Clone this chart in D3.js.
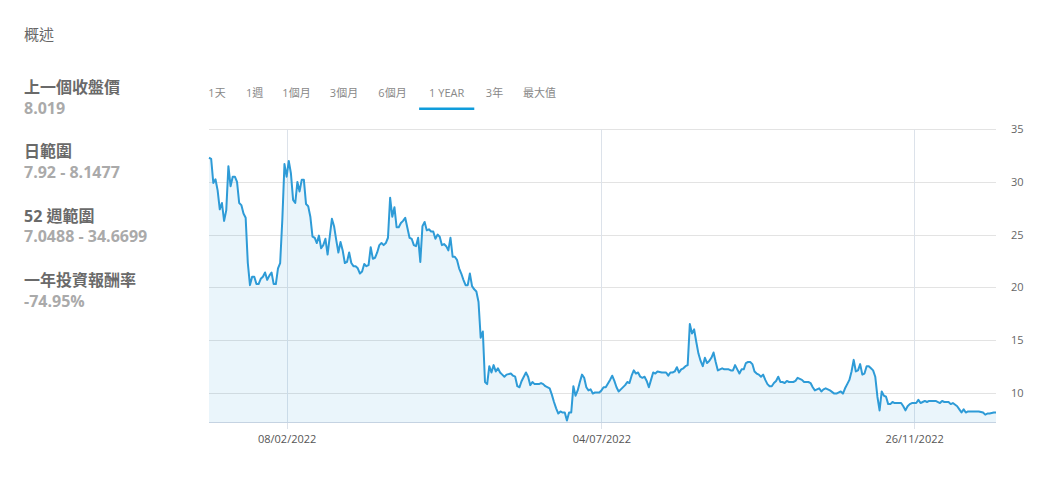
<!DOCTYPE html>
<html><head><meta charset="utf-8">
<script src="https://cdn.jsdelivr.net/npm/d3@7"></script>
<style>body{margin:0;background:#fff}svg{display:block}</style>
</head><body>
<svg id="c" width="1060" height="483"></svg>
<script>
// ---- data ----
const startDate = "2022-01-03";
const dayOffsets = [0,1,2,3,4,5,6,7,8,9,10,11,12,13,14,15,16,17,18,19,20,21,22,23,24,25,26,27,28,29,30,31,32,33,34,35,36,37,38,39,40,41,42,43,44,45,46,47,48,49,50,51,52,53,54,55,56,57,58,59,60,61,62,63,64,65,66,67,68,69,70,71,72,73,74,75,76,77,78,79,80,81,82,83,84,85,86,87,88,89,90,91,93,94,95,96,97,98,99,100,101,102,103,104,105,106,107,108,109,110,111,112,113,114,115,116,117,118,119,120,121,122,123,124,125,126,127,128,129,130,131,132,133,134,135,136,137,138,140,141,142,143,144,145,147,148,149,150,151,152,153,154,155,156,158,159,160,161,162,163,164,165,166,167,168,169,170,171,172,173,174,175,176,177,178,179,181,182,183,184,186,187,188,189,190,191,193,194,195,196,197,198,199,200,201,202,203,204,205,206,207,208,210,211,212,213,214,215,216,217,218,219,220,221,222,223,224,225,226,227,228,229,230,231,232,233,234,235,236,237,238,239,241,242,243,244,245,246,247,248,249,250,251,252,253,254,255,256,257,258,259,260,261,262,263,264,265,266,267,268,269,271,272,273,275,276,278,279,280,281,282,283,284,285,286,288,290,291,293,294,295,296,297,298,299,300,301,302,303,304,305,306,307,308,309,310,311,312,313,314,315,316,317,318,320,321,322,323,324,325,326,328,329,330,331,332,333,334,336,337,339,340,341,342,343,344,345,347,348,349,350,351,352,353,354,356,357,359,360,361,362,364,365];
const prices = [32.3,32.2,29.9,30.25,29.2,27.4,28.0,26.3,27.3,31.5,29.6,30.5,30.5,30.0,28.0,27.8,27.0,26.6,22.3,20.2,21.0,21.0,20.3,20.3,20.8,21.0,21.4,20.7,21.1,21.4,20.3,20.3,21.8,22.3,26.4,31.7,30.5,32.0,30.8,28.3,28.0,30.0,29.1,30.2,30.2,27.9,27.7,26.7,24.8,24.7,24.2,24.9,23.7,24.0,24.6,23.1,24.8,26.5,25.8,24.5,23.3,24.3,23.5,22.3,22.4,23.3,22.3,22.0,22.0,21.8,21.3,21.5,22.2,22.0,22.1,23.8,22.7,22.8,23.3,24.0,24.2,24.0,24.2,24.7,28.5,26.7,27.6,25.7,25.7,26.1,26.3,26.6,24.7,24.6,24.0,23.9,24.7,22.4,25.8,26.2,25.4,25.5,25.3,25.3,24.6,25.0,24.8,24.0,24.1,23.9,23.5,24.7,22.9,22.9,22.6,21.8,21.3,20.7,20.2,20.2,21.3,20.1,19.8,19.6,18.6,15.2,15.8,11.0,10.8,12.5,11.9,12.6,12.0,12.3,11.9,11.7,11.5,11.7,11.8,11.6,11.5,10.6,10.5,11.1,11.9,11.5,10.7,11.0,10.8,10.8,10.8,10.9,10.8,10.6,10.4,9.8,9.1,8.5,8.0,8.2,8.1,8.1,7.35,8.1,8.1,10.6,9.7,10.2,11.0,11.7,11.4,10.5,10.2,10.3,9.9,10.0,10.0,10.2,10.5,10.5,11.2,11.6,11.1,10.5,10.1,10.3,10.7,11.0,10.9,11.6,12.1,11.8,11.9,11.5,11.4,11.5,11.1,10.5,11.2,11.9,11.8,12.0,11.9,11.9,11.9,11.6,11.9,11.9,12.0,12.4,11.9,12.2,12.3,12.5,12.6,16.5,15.6,16.0,14.8,13.7,13.0,12.5,13.3,12.8,13.0,13.3,13.8,12.9,12.1,12.2,12.3,12.2,12.2,12.1,12.1,12.6,12.2,11.8,12.2,12.2,12.8,12.9,12.9,12.7,12.0,11.8,11.7,11.5,11.7,11.2,10.8,10.6,10.6,10.9,11.1,11.5,11.0,11.0,10.9,11.1,11.0,11.0,11.1,11.4,11.2,11.0,11.0,10.9,10.5,10.2,10.3,10.4,10.1,10.3,10.4,10.2,9.9,9.9,10.1,9.9,10.4,10.8,11.2,12.0,13.1,12.0,12.1,12.7,11.7,11.8,12.5,12.5,12.3,12.1,11.5,9.6,8.3,10.1,9.7,9.6,8.9,8.9,9.1,9.0,9.0,9.0,8.7,8.3,8.7,8.9,9.0,9.0,9.3,9.0,9.1,9.2,9.1,9.2,9.2,9.2,9.0,9.2,9.1,9.1,9.1,8.9,9.0,8.7,8.4,8.1,8.4,8.1,8.2,8.2,8.2,8.2,8.2,8.1,7.9,8.0,8.0,8.1,8.1];
const yTicks = [10, 15, 20, 25, 30, 35];
const yMin = 7.2, yMax = 35;
const xTickDates = ["2022-02-08", "2022-07-04", "2022-11-26"];
const xTickLabels = ["08/02/2022", "04/07/2022", "26/11/2022"];
const tabLabels = ["1天", "1週", "1個月", "3個月", "6個月", "1 YEAR", "3年", "最大值"];
const activeTab = "1 YEAR";
const summaryTitles = ["上一個收盤價", "日範圍", "52 週範圍", "一年投資報酬率"];
const summaryValues = ["8.019", "7.92 - 8.1477", "7.0488 - 34.6699", "-74.95%"];
const headerText = "概述";

// ---- layout ----
const FONT = "'Open Sans','Noto Sans CJK TC',sans-serif";
const plot = {left: 209, right: 996, top: 129.3, bottom: 422};
const tabCenters = [217, 254.7, 296.5, 344, 392.5, 446.7, 494.5, 539.5];

const svg = d3.select("#c");
svg.append("rect").attr("width", 1060).attr("height", 483).attr("fill", "#fff");

const parse = d3.timeParse("%Y-%m-%d");
const t0 = parse(startDate);
const data = dayOffsets.map((d, i) => ({date: d3.timeDay.offset(t0, d), v: prices[i]}));

const x = d3.scaleTime().domain(d3.extent(data, d => d.date)).range([plot.left, plot.right]);
const y = d3.scaleLinear().domain([yMin, yMax]).range([plot.bottom, plot.top]);

// header + summary
svg.append("text").attr("x", 24).attr("y", 40).attr("font-family", FONT)
  .attr("font-size", 15).attr("fill", "#666").text(headerText);
const sum = svg.append("g");
summaryTitles.forEach((t, i) => {
  sum.append("text").attr("x", 24).attr("y", 93 + i * 64.3).attr("font-family", FONT)
    .attr("font-size", 16).attr("font-weight", 700).attr("fill", "#6a6a6a").text(t);
  sum.append("text").attr("x", 24).attr("y", 114 + i * 64.2).attr("font-family", FONT)
    .attr("font-size", 16).attr("font-weight", 700).attr("fill", "#aaaaaa").text(summaryValues[i]);
});

// tabs
const tabs = svg.append("g");
tabLabels.forEach((t, i) => {
  const tx = tabs.append("text").attr("x", tabCenters[i]).attr("y", 97).attr("text-anchor", "middle")
    .attr("font-family", FONT).attr("font-size", 11).attr("fill", "#888").text(t);
  if (t === activeTab) {
    const w = tx.node().getComputedTextLength();
    tabs.append("rect").attr("x", tabCenters[i] - w / 2 - 10).attr("y", 107.5)
      .attr("width", w + 20).attr("height", 2.5).attr("fill", "#0f9cdb");
  }
});

// horizontal grid
svg.append("g").selectAll("line").data(yTicks).join("line")
  .attr("x1", plot.left).attr("x2", plot.right)
  .attr("y1", d => Math.round(y(d)) + 0.5).attr("y2", d => Math.round(y(d)) + 0.5)
  .attr("stroke", "#e3e3e3").attr("stroke-width", 1);

// vertical grid + ticks
const xt = xTickDates.map(parse);
svg.append("g").selectAll("line").data(xt).join("line")
  .attr("x1", d => Math.round(x(d)) + 0.5).attr("x2", d => Math.round(x(d)) + 0.5)
  .attr("y1", plot.top).attr("y2", plot.bottom + 7)
  .attr("stroke", "#dce2ea").attr("stroke-width", 1);

// area
const area = d3.area().x(d => x(d.date)).y0(plot.bottom).y1(d => y(d.v));
svg.append("path").datum(data).attr("d", area).attr("fill", "rgba(47,155,215,0.1)");

// baseline
svg.append("line").attr("x1", plot.left).attr("x2", plot.right)
  .attr("y1", plot.bottom + 0.5).attr("y2", plot.bottom + 0.5)
  .attr("stroke", "#c5d3e2").attr("stroke-width", 1);

// line
const line = d3.line().x(d => x(d.date)).y(d => y(d.v));
svg.append("path").datum(data).attr("d", line).attr("fill", "none")
  .attr("stroke", "#2e9bd7").attr("stroke-width", 2).attr("stroke-linejoin", "round");

// y axis labels (right)
const yAxis = d3.axisRight(y).tickValues(yTicks).tickSize(0).tickPadding(15);
const ya = svg.append("g").attr("transform", `translate(${plot.right},0)`).call(yAxis);
ya.select(".domain").remove();
ya.selectAll("text").attr("font-family", FONT).attr("font-size", 11).attr("fill", "#666");

// x axis labels
const xAxis = d3.axisBottom(x).tickValues(xt).tickSize(0).tickPadding(13)
  .tickFormat((d, i) => xTickLabels[i]);
const xa = svg.append("g").attr("transform", `translate(0,${plot.bottom})`).call(xAxis);
xa.select(".domain").remove();
xa.selectAll("text").attr("font-family", FONT).attr("font-size", 11).attr("fill", "#555");
</script>
</body></html>
